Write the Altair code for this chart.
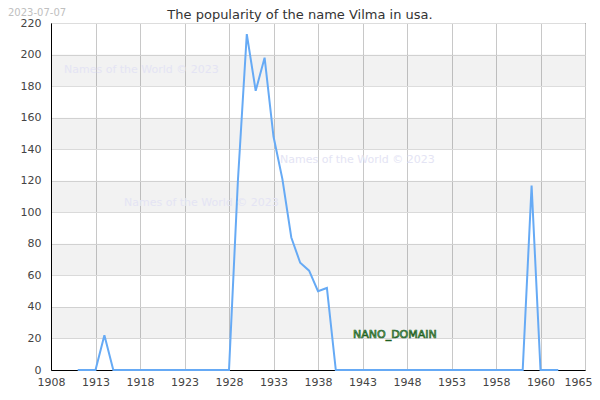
import altair as alt
import pandas as pd

years = list(range(1911, 1966))
counts = [0, 0, 0, 22, 0, 0, 0, 0, 0, 0,      # 1911-1920
          0, 0, 0, 0, 0, 0, 0, 0, 120, 213,   # 1921-1930
          177, 198, 148, 121, 84, 68, 63, 50, 52, 0,  # 1931-1940
          0, 0, 0, 0, 0, 0, 0, 0, 0, 0,       # 1941-1950
          0, 0, 0, 0, 0, 0, 0, 0, 0, 0,       # 1951-1960
          0, 117, 0, 0, 0]                    # 1961-1965

x_ticks = [1908, 1913, 1918, 1923, 1928, 1933, 1938, 1943, 1948, 1953, 1958, 1963, 1968]
y_ticks = [0, 20, 40, 60, 80, 100, 120, 140, 160, 180, 200, 220]
band_lo = [20, 60, 100, 140, 180]
band_hi = [40, 80, 120, 160, 200]

title_text = "The popularity of the name Vilma in usa."
date_text = "2023-07-07"
watermark = "Names of the World © 2023"

W, H = 534, 347
FONT = "DejaVu Sans"

df = pd.DataFrame({"year": years, "count": counts})
bands = pd.DataFrame({"lo": band_lo, "hi": band_hi})

xscale = alt.Scale(domain=[1908, 1968], nice=False, zero=False)
yscale = alt.Scale(domain=[0, 220], nice=False)

y_axis = alt.Axis(values=y_ticks, title=None, grid=True, gridColor="#dddddd",
                  ticks=False, labelPadding=10, labelFontSize=11, labelFont=FONT,
                  labelColor="#444", domainColor="black", labelOverlap=False)

band_layer = alt.Chart(bands).mark_rect(color="black", opacity=0.05).encode(
    y=alt.Y("lo:Q", scale=yscale, axis=y_axis),
    y2="hi:Q",
    x=alt.value(0),
    x2=alt.value(W),
)

line = alt.Chart(df).mark_line(color="#66aaf5", strokeWidth=2).encode(
    x=alt.X("year:Q", scale=xscale,
            axis=alt.Axis(values=x_ticks, title=None, grid=True, gridColor="#c8c8c8",
                          ticks=False, labelPadding=6, labelFontSize=11, labelFont=FONT,
                          labelColor="#444", domainColor="black", labelOverlap=False,
                          labelExpr="datum.value == 1963 ? '1960' : datum.value == 1968 ? '1965' : datum.label",
                          labelOffset={"condition": {"test": "datum.value == 1968", "value": -7}, "value": 0},
                          format="d", labelFlush=False)),
    y=alt.Y("count:Q", scale=yscale, axis=y_axis),
)

def txt(text, x, y, **kw):
    return alt.Chart(pd.DataFrame({"t": [text]})).mark_text(font=FONT, **kw).encode(
        text="t:N", x=alt.value(x), y=alt.value(y))

wm_kw = dict(fontSize=11, color="#e4e4f4", align="left", baseline="middle")
texts = [
    txt(watermark, 13, 47, **wm_kw),
    txt(watermark, 229, 137, **wm_kw),
    txt(watermark, 73, 180, **wm_kw),
    txt("NANO_DOMAIN", 302, 312, fontSize=11, color="#88cc88", stroke="#1f5f1f",
        strokeWidth=0.7, align="left", baseline="middle"),
    txt(title_text, 249, -4, fontSize=13, color="#333333", align="center", baseline="alphabetic"),
    txt(date_text, -43, -7, fontSize=10, color="#c0c0c0", align="left", baseline="alphabetic"),
]

chart = alt.layer(band_layer, line, *texts).properties(
    width=W, height=H,
    autosize=alt.AutoSizeParams(type="none"),
    padding={"left": 43, "top": 15, "right": 7, "bottom": 22},
    background="white",
).configure_view(stroke="black", strokeWidth=1)

chart.save("out.html", embed_options={"renderer": "svg", "actions": False})
